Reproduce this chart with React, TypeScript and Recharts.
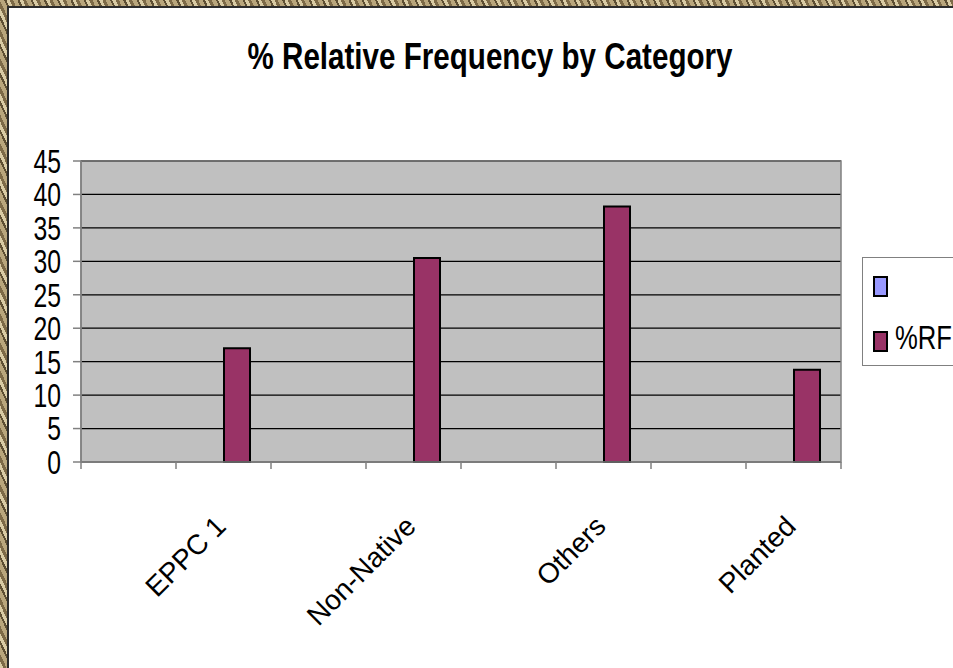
import { BarChart, Bar, XAxis, YAxis, CartesianGrid, Legend, ReferenceArea } from "recharts";

// odd slots are empty categories, as in the original sheet
const categories = ["", "EPPC 1", "", "Non-Native", "", "Others", "", "Planted"];
const rfValues = [null, 17.0, null, 30.5, null, 38.2, null, 13.8];
const blankValues = [null, null, null, null, null, null, null, null];
const yTicks = [0, 5, 10, 15, 20, 25, 30, 35, 40, 45];
const seriesNames = ["", "%RF"];

const data = categories.map((c, i) => ({ cat: c, blank: blankValues[i], rf: rfValues[i] }));

const W = 953;
const H = 668;
const PLOT_LEFT = 81;
const PLOT_RIGHT = 841;
const BAND = (PLOT_RIGHT - PLOT_LEFT) / categories.length;
const FONT = "'Liberation Sans', Arial, sans-serif";

function YTick(props: any) {
  const { x, y, payload } = props;
  return (
    <g transform={`translate(${x},${y}) scale(0.75,1)`}>
      <text x={0} y={0} dy="0.36em" textAnchor="end" fontSize={33} fontFamily={FONT} fill="#000">
        {payload.value}
      </text>
    </g>
  );
}

function XTick(props: any) {
  const { x, y, payload, index } = props;
  const left = x - BAND / 2;
  const ax = x - 3;
  const ay = y + 59;
  return (
    <g>
      <line x1={left} y1={y} x2={left} y2={y + 7} stroke="#808080" strokeWidth={1.5} />
      {index === categories.length - 1 && (
        <line x1={x + BAND / 2} y1={y} x2={x + BAND / 2} y2={y + 7} stroke="#808080" strokeWidth={1.5} />
      )}
      {payload.value && (
        <text
          x={ax}
          y={ay}
          dy="0.35em"
          textAnchor="end"
          fontSize={28}
          fontFamily={FONT}
          fill="#000"
          transform={`rotate(-45 ${ax} ${ay})`}
        >
          {payload.value}
        </text>
      )}
    </g>
  );
}

function LegendBox(props: any) {
  const items = props.payload || [];
  return (
    <div style={{ width: 100, height: 109, border: "1px solid #808080", background: "#fff", boxSizing: "border-box" }}>
      <svg width={98} height={107} style={{ display: "block" }}>
        {items.map((it: any, i: number) => (
          <g key={i}>
            <rect x={11} y={19 + i * 55} width={13} height={19} fill={it.color} stroke="#000" strokeWidth={2} />
            {it.value ? (
              <text x={32} y={36 + i * 55} fontSize={34} fontFamily={FONT} textLength={57} lengthAdjust="spacingAndGlyphs" fill="#000">
                {it.value}
              </text>
            ) : null}
          </g>
        ))}
      </svg>
    </div>
  );
}

export default function App() {
  return (
    <div
      style={{
        position: "fixed",
        inset: 0,
        overflow: "hidden",
        background:
          "repeating-linear-gradient(65deg, #d9cba4 0 3px, #7d6a47 3px 6px, #b9a67c 6px 10px, #5e4f33 10px 12px)",
      }}
    >
      <div
        style={{
          position: "absolute",
          left: 7,
          top: 6,
          width: 980,
          height: 700,
          background: "#fff",
          border: "2px solid #2b2b2b",
        }}
      />
      <div style={{ position: "absolute", left: 0, top: 0 }}>
        <BarChart
          width={W}
          height={H}
          data={data}
          margin={{ top: 161, right: W - PLOT_RIGHT, left: PLOT_LEFT - 60, bottom: 166 }}
          barSize={26}
          barGap={0}
        >
          <CartesianGrid vertical={false} stroke="#000" strokeWidth={1.3} fill="#C0C0C0" />
          <XAxis
            dataKey="cat"
            height={40}
            interval={0}
            tickLine={false}
            tickSize={0}
            tickMargin={0}
            axisLine={{ stroke: "#808080", strokeWidth: 1.5 }}
            tick={<XTick />}
          />
          <YAxis
            width={60}
            domain={[0, 45]}
            ticks={yTicks}
            interval={0}
            tickSize={8}
            tickMargin={12}
            tickLine={{ stroke: "#808080", strokeWidth: 1.5 }}
            axisLine={{ stroke: "#808080", strokeWidth: 1.5 }}
            tick={<YTick />}
          />
          <ReferenceArea y1={0} y2={45} fill="none" stroke="#808080" strokeWidth={1.5} ifOverflow="visible" />
          <Bar dataKey="blank" name={seriesNames[0]} fill="#9999FF" stroke="#000" strokeWidth={2} legendType="square" isAnimationActive={false} />
          <Bar dataKey="rf" name={seriesNames[1]} fill="#993366" stroke="#000" strokeWidth={2} legendType="square" isAnimationActive={false} />
          <Legend
            layout="vertical"
            align="center"
            verticalAlign="middle"
            content={<LegendBox />}
            wrapperStyle={{ position: "absolute", left: 862, top: 257, width: 100, height: 109, bottom: "auto", right: "auto" }}
          />
        </BarChart>
      </div>
      <svg width={W} height={H} style={{ position: "absolute", left: 0, top: 0, pointerEvents: "none" }}>
        <text
          x={490}
          y={69}
          textAnchor="middle"
          fontSize={36}
          fontWeight="bold"
          fontFamily={FONT}
          textLength={485}
          lengthAdjust="spacingAndGlyphs"
          fill="#000"
        >
          % Relative Frequency by Category
        </text>
      </svg>
    </div>
  );
}
